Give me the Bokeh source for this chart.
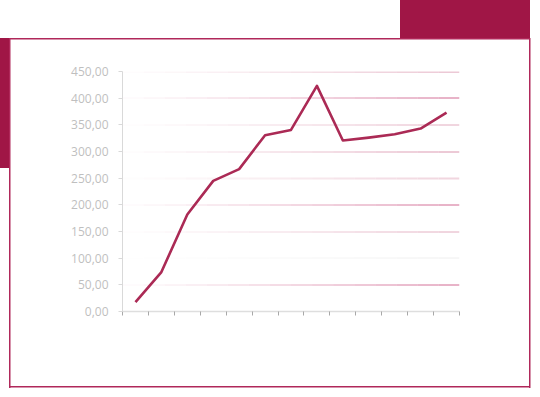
import math
from bokeh.plotting import figure
from bokeh.models import Range1d, FixedTicker, CustomJSTickFormatter, ColumnDataSource
from bokeh.embed import file_html
from bokeh.resources import INLINE

# ---- data ----
periods = list(range(1, 14))
values = [17.5, 74, 182, 245, 267, 330.5, 340.5, 423, 320.5, 326, 332.5, 343, 373]
y_ticks = [0, 50, 100, 150, 200, 250, 300, 350, 400, 450]

# grid line groups (levels)
grid_strong = [50, 200, 400]
grid_medium = [300, 450]
grid_light = [150, 350]
grid_pale = [250]
grid_grey = [100]

W, H = 540, 397
ACCENT = "#a01646"
LINE = "#ab2a55"
Y_MAX = 450
FRAME_TOP, FRAME_BOTTOM = 71, 311
PPU = (FRAME_BOTTOM - FRAME_TOP) / Y_MAX


def blend(hex_col, a):
    r, g, b = (int(hex_col[i:i + 2], 16) for i in (1, 3, 5))
    mix = lambda c: round(255 - (255 - c) * a)
    return "#%02x%02x%02x" % (mix(r), mix(g), mix(b))


def crisp(level, width):
    # nudge a grid level so that the drawn line sits on whole pixels
    sy = FRAME_TOP + (Y_MAX - level) * PPU
    target = round(sy) if width % 2 == 0 else math.floor(sy) + 0.5
    return Y_MAX - (target - FRAME_TOP) / PPU


# decorative page elements drawn as CSS backgrounds of the figure host
def rect_bg(x, y, w, h, col):
    return ("linear-gradient(%s, %s)" % (col, col), "%gpx %gpx" % (x, y), "%gpx %gpx" % (w, h))

frame_col = "#b0285a"
decor = [
    rect_bg(400, 0, 130, 38, ACCENT),
    rect_bg(0, 38, 9, 130, ACCENT),
    rect_bg(9, 37.5, 521, 1.5, frame_col),
    rect_bg(9, 386, 521, 1.5, frame_col),
    rect_bg(9, 37.5, 1.5, 350, frame_col),
    rect_bg(529, 37.5, 1.5, 350, frame_col),
]

p = figure(width=W, height=H, output_backend="svg", toolbar_location=None,
           x_range=Range1d(0.5, len(periods) + 0.5), y_range=Range1d(0, Y_MAX),
           min_border_left=122, min_border_right=81, min_border_top=FRAME_TOP,
           min_border_bottom=H - FRAME_BOTTOM)
p.styles = {
    "position": "absolute", "left": "0px", "top": "0px",
    "background-color": "white",
    "background-image": ", ".join(d[0] for d in decor),
    "background-position": ", ".join(d[1] for d in decor),
    "background-size": ", ".join(d[2] for d in decor),
    "background-repeat": "no-repeat",
}
p.outline_line_color = None
p.xgrid.grid_line_color = None
p.ygrid.grid_line_color = None
p.background_fill_color = None
p.border_fill_color = None

# gradient-like grid lines (faint on the left, stronger on the right)
n_bands = 16
start, end = 0.5, len(periods) + 0.5
step = (end - start) / n_bands
groups = [(grid_strong, "#d16891", 1), (grid_medium, "#da94ad", 1),
          (grid_light, "#e2acbf", 1), (grid_pale, "#f1d6df", 2),
          (grid_grey, "#eeeeee", 1)]
for levels, col, w in groups:
    x0s, x1s, ys, cols = [], [], [], []
    for lv in levels:
        for b in range(n_bands):
            x0s.append(start + b * step)
            x1s.append(start + (b + 1) * step)
            ys.append(crisp(lv, w))
            cols.append(blend(col, 0.05 + 0.95 * (b / (n_bands - 1)) ** 1.1))
    gsrc = ColumnDataSource(dict(x0=x0s, x1=x1s, y=ys, c=cols))
    p.segment(x0="x0", y0="y", x1="x1", y1="y", source=gsrc, line_color="c",
              line_width=w, line_cap="butt")

src = ColumnDataSource(dict(x=periods, y=values))
p.line("x", "y", source=src, line_color=LINE, line_width=2.6, line_join="round")

# y axis
ya = p.yaxis[0]
ya.ticker = FixedTicker(ticks=y_ticks)
ya.formatter = CustomJSTickFormatter(code="return tick.toFixed(2).replace('.', ',');")
ya.axis_line_color = "#d9d9d9"
ya.major_tick_line_color = "#d9d9d9"
ya.major_tick_out = 4
ya.major_tick_in = 0
ya.minor_tick_line_color = None
ya.major_label_text_color = "#bfbfbf"
ya.major_label_text_font = "Open Sans"
ya.major_label_text_font_size = "12px"
ya.major_label_standoff = 10

# x axis (ticks between categories, no labels)
xa = p.xaxis[0]
xa.ticker = FixedTicker(ticks=[i + 0.5 for i in range(len(periods) + 1)])
xa.formatter = CustomJSTickFormatter(code="return '';")
xa.axis_line_color = "#dedede"
xa.axis_line_width = 1.5
xa.major_tick_line_color = "#a8a8a8"
xa.major_tick_out = 4
xa.major_tick_in = 0
xa.minor_tick_line_color = None

open("out.html", "w").write(file_html(p, INLINE))
